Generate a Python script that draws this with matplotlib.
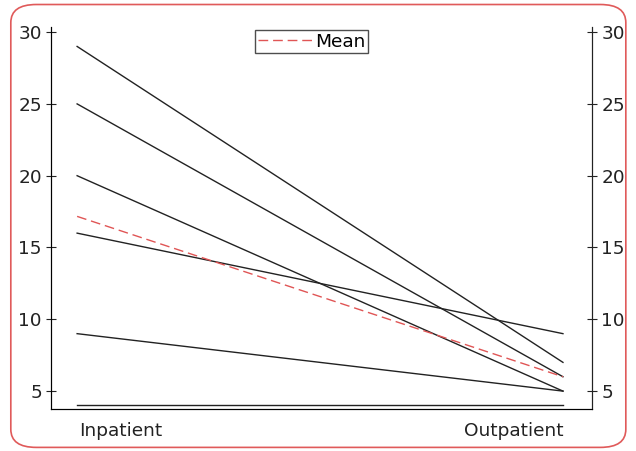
import numpy as np
from matplotlib import pyplot as plt
from matplotlib.patches import FancyBboxPatch

categories = ['Inpatient', 'Outpatient']
inpatient = [29, 25, 20, 16, 9, 4]
outpatient = [7, 6, 5, 9, 5, 4]
mean_vals = [np.mean(inpatient), np.mean(outpatient)]
yticks = [5, 10, 15, 20, 25, 30]

plt.rcParams['font.family'] = ['DejaVu Sans']
fs = 13.3

fig = plt.figure(figsize=(6.36, 4.51), dpi=100)
ax = fig.add_axes([0.080, 0.093, 0.851, 0.847])

#Outer rounded border
border = FancyBboxPatch((0.017, 0.008), 0.967, 0.982, boxstyle='round,pad=0,rounding_size=0.04',
                        transform=fig.transFigure, facecolor='none', edgecolor='#e05a5a', linewidth=1.2)
fig.patches.append(border)

x = [0, 1]
for a, b in zip(inpatient, outpatient):
    ax.plot(x, [a, b], color='#222222', linewidth=1.0)
ax.plot(x, mean_vals, color='#e05555', linewidth=1.0, dashes=(7, 3.5), label='Mean')

ax.set_xlim(-0.054, 1.06)
ax.set_ylim(3.75, 30.35)
ax.set_yticks(yticks)
ax.set_xticks([])
ax.spines['top'].set_visible(False)
for s in ['left', 'right', 'bottom']:
    ax.spines[s].set_color('#222222')
ax.tick_params(axis='y', direction='inout', length=7, labelsize=fs, pad=3, colors='#222222')

ax2 = ax.twinx()
ax2.set_ylim(ax.get_ylim())
ax2.set_yticks(yticks)
ax2.spines['top'].set_visible(False)
ax2.spines['right'].set_color('#222222')
ax2.tick_params(axis='y', direction='inout', length=7, labelsize=fs, pad=3, colors='#222222')

#Category labels aligned to line ends
ax.text(0.005, -0.035, categories[0], transform=ax.get_xaxis_transform(), ha='left', va='top', fontsize=fs, color='#222222')
ax.text(1.002, -0.035, categories[1], transform=ax.get_xaxis_transform(), ha='right', va='top', fontsize=fs, color='#222222')

leg = ax.legend(loc='upper center', bbox_to_anchor=(0.482, 1.0), fontsize=fs, frameon=True, fancybox=False,
                handlelength=2.9, handletextpad=0.2, borderpad=0.15, borderaxespad=0.15)
leg.get_frame().set_edgecolor('#222222')
leg.get_frame().set_linewidth(1.0)

plt.savefig('out.png', dpi=100)
